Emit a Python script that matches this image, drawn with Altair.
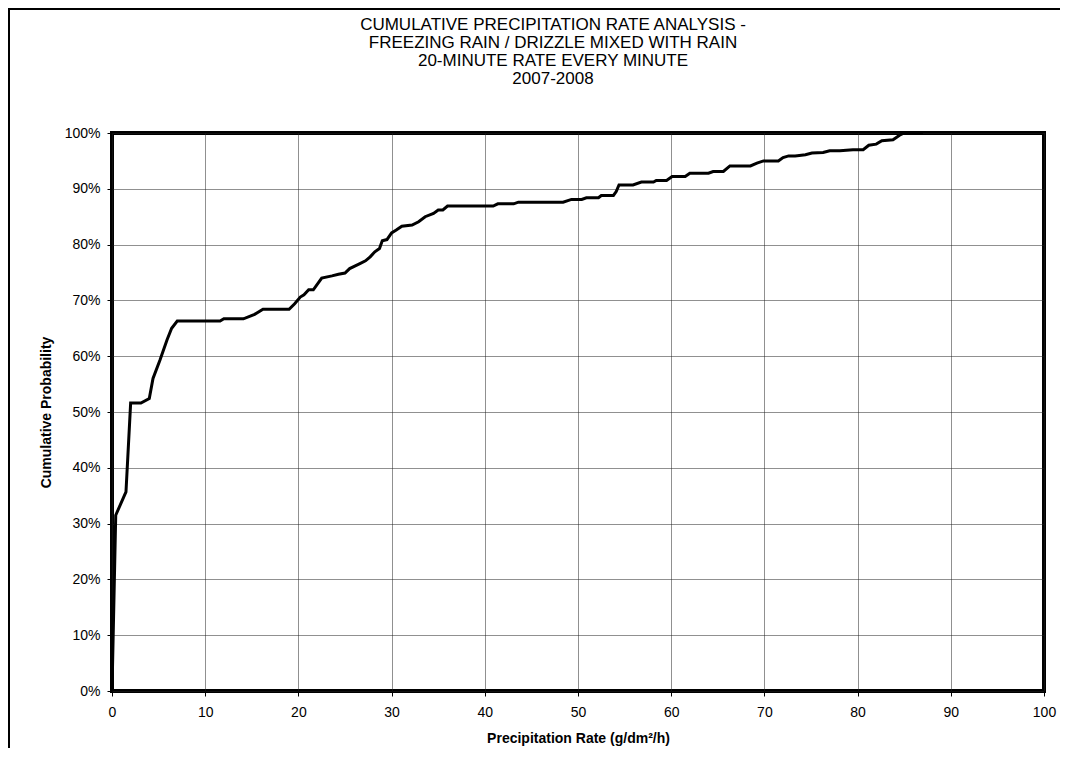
import altair as alt
import pandas as pd

# Precipitation rate (g/dm²/h)
rate = [0, 0.4, 1.5, 2.0, 3.1, 4.0, 4.4, 5.15, 5.9, 6.4, 7.0, 11.6, 12.0, 14.1, 15.3, 16.2,
        19.0, 19.6, 20.2, 20.6, 21.1, 21.6, 22.5, 23.6, 24.3, 25.0, 25.5, 26.1, 26.6, 27.2,
        27.7, 28.2, 28.7, 29.0, 29.5, 30.0, 30.5, 31.1, 32.2, 32.9, 33.6, 34.5, 35.0, 35.5,
        36.0, 40.9, 41.4, 43.1, 43.6, 48.4, 49.3, 50.4, 50.9, 52.2, 52.5, 53.8, 54.1, 54.4,
        55.9, 56.8, 58.1, 58.4, 59.5, 60.1, 61.5, 62.0, 64.0, 64.5, 65.6, 66.3, 68.5, 69.2,
        69.9, 71.5, 72.0, 72.6, 73.3, 74.4, 75.1, 76.3, 77.0, 78.1, 79.5, 80.6, 81.2, 82.0,
        82.6, 83.8, 84.5, 85.0, 87.0]
# Cumulative probability (%)
prob = [0, 31.5, 35.7, 51.6, 51.6, 52.4, 56.0, 59.3, 62.9, 65.0, 66.3, 66.3, 66.7, 66.7, 67.5, 68.4,
        68.4, 69.4, 70.6, 71.0, 71.9, 71.9, 74.0, 74.4, 74.7, 74.9, 75.7, 76.2, 76.6, 77.1,
        77.8, 78.7, 79.3, 80.7, 80.9, 82.1, 82.6, 83.3, 83.5, 84.1, 85.0, 85.6, 86.2, 86.2,
        86.9, 86.9, 87.3, 87.3, 87.6, 87.6, 88.1, 88.1, 88.4, 88.4, 88.8, 88.8, 89.5, 90.7,
        90.7, 91.2, 91.2, 91.5, 91.5, 92.2, 92.2, 92.8, 92.8, 93.1, 93.1, 94.1, 94.1, 94.6,
        95.0, 95.0, 95.6, 95.9, 95.9, 96.1, 96.4, 96.5, 96.8, 96.8, 97.0, 97.0, 97.8, 98.0,
        98.6, 98.8, 99.6, 100.0, 100.0]

x_ticks = [0, 10, 20, 30, 40, 50, 60, 70, 80, 90, 100]
y_ticks = [0, 10, 20, 30, 40, 50, 60, 70, 80, 90, 100]

title_lines = [
    "CUMULATIVE PRECIPITATION RATE ANALYSIS -",
    "FREEZING RAIN / DRIZZLE MIXED WITH RAIN",
    "20-MINUTE RATE EVERY MINUTE",
    "2007-2008",
]

FONT = "Liberation Sans"
W, H = 932, 558

df = pd.DataFrame({"rate": rate, "prob": prob, "order": list(range(len(rate)))})
one = pd.DataFrame({"k": [0]})

line = alt.Chart(df).mark_line(color="black", strokeWidth=3, strokeJoin="miter").encode(
    x=alt.X("rate:Q",
            scale=alt.Scale(domain=[0, 100], nice=False, zero=True),
            axis=alt.Axis(values=x_ticks, title="Precipitation Rate (g/dm²/h)",
                          titleY=47, titleBaseline="middle", titleAlign="center",
                          labelPadding=9, labelFlush=False)),
    y=alt.Y("prob:Q",
            scale=alt.Scale(domain=[0, 100], nice=False),
            axis=alt.Axis(values=y_ticks, title="Cumulative Probability",
                          labelExpr="datum.value + '%'",
                          titleX=-66, titleY=H / 2, titleAngle=270,
                          titleBaseline="middle", titleAlign="center",
                          labelPadding=7, labelFlush=False)),
    order="order:Q",
)

# chart title as a text block above the plot
title = alt.Chart(one).mark_text(
    text=title_lines, fontSize=17, font=FONT, lineHeight=18,
    align="center", baseline="top", color="black", fontWeight="normal",
).encode(x=alt.value(441), y=alt.value(-116))

# outer chart-area border (top and left edges)
frame_left = alt.Chart(one).mark_rule(color="black", strokeWidth=2).encode(
    x=alt.value(-103), y=alt.value(-124), y2=alt.value(616))
frame_top = alt.Chart(one).mark_rule(color="black", strokeWidth=2).encode(
    x=alt.value(-104), x2=alt.value(950), y=alt.value(-124))

chart = alt.layer(frame_left, frame_top, title, line).properties(
    width=W, height=H,
    autosize=alt.AutoSizeParams(type="none"),
    padding={"left": 104, "top": 125, "right": 16, "bottom": 57},
    background="white",
).configure_view(
    stroke="black", strokeWidth=4,
).configure_axis(
    domain=False, grid=True, gridColor="#202020", gridDash=[1, 1], gridWidth=1,
    ticks=True, tickColor="black", tickSize=5, tickWidth=1,
    labelFont=FONT, labelFontSize=14, labelColor="black",
    titleFont=FONT, titleFontSize=14, titleFontWeight="bold", titleColor="black",
)

chart.save("out.html", embed_options={"renderer": "svg", "actions": False})
